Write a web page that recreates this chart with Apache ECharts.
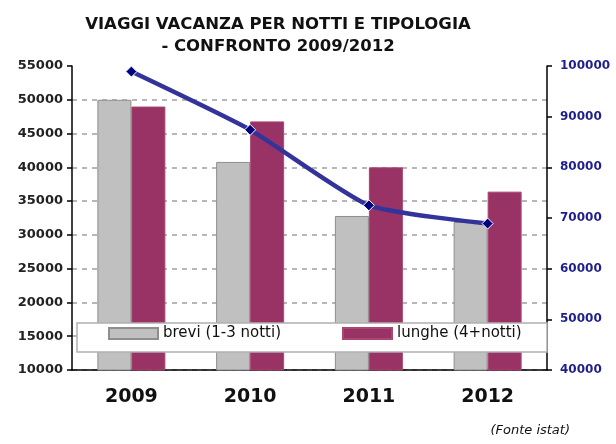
<!DOCTYPE html>
<html>
<head>
<meta charset="utf-8">
<script src="https://cdn.jsdelivr.net/npm/echarts@6/dist/echarts.min.js"></script>
<style>html,body{margin:0;padding:0;background:#fff;}#c{width:616px;height:444px;}</style>
</head>
<body>
<div id="c"></div>
<script>
const categories = ['2009', '2010', '2011', '2012'];
const brevi = [50000, 40800, 32800, 31900];
const lunghe = [49000, 46800, 40000, 36400];
const totale = [98900, 87400, 72500, 68900];
const seriesNames = ['brevi (1-3 notti)', 'lunghe (4+notti)'];
const titleLines = ['VIAGGI VACANZA PER NOTTI E TIPOLOGIA', '- CONFRONTO 2009/2012'];
const sourceNote = '(Fonte istat)';

const chart = echarts.init(document.getElementById('c'), null, {renderer: 'canvas'});
const plain = v => String(v);
const option = {
  animation: false,
  backgroundColor: '#fff',
  grid: {left: 72, right: 69, top: 66, bottom: 74},
  legend: {
    data: seriesNames,
    left: 108, top: 326, padding: 0,
    icon: 'rect',
    itemWidth: 49, itemHeight: 11, itemGap: 61,
    textStyle: {fontFamily: 'DejaVu Sans', fontSize: 15, color: '#111'},
    z: 60
  },
  xAxis: {
    type: 'category', data: categories,
    axisLine: {lineStyle: {color: '#000', width: 1.5}},
    axisTick: {length: 5, lineStyle: {color: '#000', width: 1.5}},
    axisLabel: {fontFamily: 'DejaVu Sans', fontWeight: 'bold', fontSize: 19, color: '#111', margin: 18}
  },
  yAxis: [{
    type: 'value', min: 10000, max: 55000, interval: 5000,
    axisLine: {show: true, lineStyle: {color: '#000', width: 1.5}},
    axisTick: {show: true, length: 5, lineStyle: {color: '#000', width: 1.5}},
    axisLabel: {formatter: plain, fontFamily: 'DejaVu Sans', fontWeight: 'bold', fontSize: 13, color: '#222', margin: 9},
    splitLine: {show: true, showMaxLine: false, lineStyle: {color: '#a0a0a0', type: [5, 5], width: 1.5}}
  }, {
    type: 'value', min: 40000, max: 100000, interval: 10000,
    axisLine: {show: true, lineStyle: {color: '#000', width: 1.5}},
    axisTick: {show: true, length: 5, lineStyle: {color: '#000', width: 1.5}},
    axisLabel: {formatter: plain, fontFamily: 'DejaVu Sans', fontWeight: 'bold', fontSize: 12, color: '#1f1f8c', margin: 13},
    splitLine: {show: false}
  }],
  series: [{
    name: seriesNames[0], type: 'bar', data: brevi, yAxisIndex: 0,
    barWidth: 34, barGap: '0%',
    itemStyle: {color: '#c0c0c0', borderColor: '#8e8e8e', borderWidth: 1}
  }, {
    name: seriesNames[1], type: 'bar', data: lunghe, yAxisIndex: 0,
    barWidth: 34, barGap: '0%',
    itemStyle: {color: '#993366', borderColor: '#a8476f', borderWidth: 1}
  }, {
    name: 'totale', type: 'line', data: totale, yAxisIndex: 1,
    smooth: 0.18, z: 5,
    lineStyle: {color: '#333399', width: 4.5},
    symbol: 'diamond', symbolSize: 11,
    itemStyle: {color: '#000080', borderColor: '#fff', borderWidth: 1}
  }],
  graphic: [
    {type: 'rect', shape: {x: 77, y: 323, width: 470, height: 29}, style: {fill: '#fff', stroke: '#b0b0b0', lineWidth: 1.5}, z: 50},
    {type: 'text', x: 278, y: 25, style: {text: titleLines[0], fontFamily: 'DejaVu Sans', fontWeight: 'bold', fontSize: 16.5, fill: '#111', align: 'center', verticalAlign: 'middle'}},
    {type: 'text', x: 278, y: 47, style: {text: titleLines[1], fontFamily: 'DejaVu Sans', fontWeight: 'bold', fontSize: 16.5, fill: '#111', align: 'center', verticalAlign: 'middle'}},
    {type: 'text', x: 570, y: 431, style: {text: sourceNote, fontFamily: 'DejaVu Sans', fontStyle: 'italic', fontSize: 13, fill: '#111', align: 'right', verticalAlign: 'middle'}}
  ]
};
chart.setOption(option);
</script>
</body>
</html>
